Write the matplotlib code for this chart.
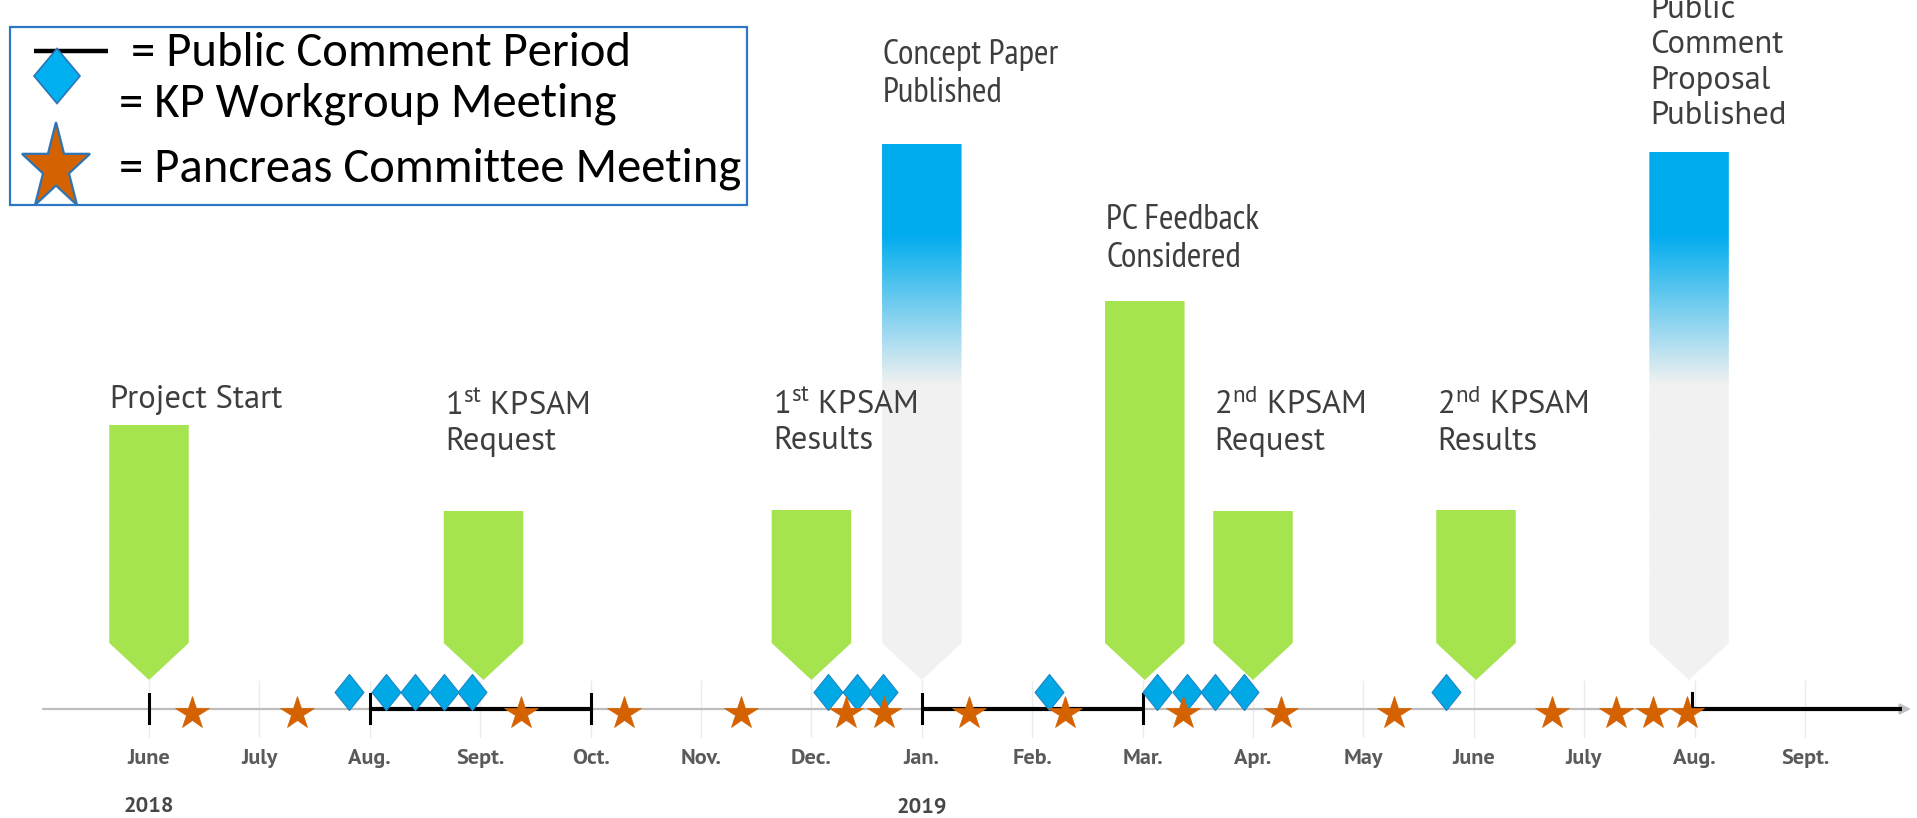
import numpy as np
import matplotlib
matplotlib.use("Agg")
import matplotlib.pyplot as plt
from matplotlib import font_manager
from matplotlib.path import Path
from matplotlib.patches import Polygon, Rectangle
from matplotlib.colors import to_rgb

# ---------------------------------------------------------------
# Timeline data (x = months after 1 June 2018)
# ---------------------------------------------------------------
month_labels = ["June", "July", "Aug.", "Sept.", "Oct.", "Nov.", "Dec.",
                "Jan.", "Feb.", "Mar.", "Apr.", "May", "June", "July",
                "Aug.", "Sept."]
year_labels = ["2018", "2019"]
year_months = [0, 7]

event_labels = [
    "Project Start",
    "1$^{\\mathrm{st}}$ KPSAM\nRequest",
    "1$^{\\mathrm{st}}$ KPSAM\nResults",
    "Concept Paper\nPublished",
    "PC Feedback\nConsidered",
    "2$^{\\mathrm{nd}}$ KPSAM\nRequest",
    "2$^{\\mathrm{nd}}$ KPSAM\nResults",
    "Public\nComment\nProposal\nPublished",
]
event_months = [0.0, 3.03, 6.0, 7.0, 9.02, 10.0, 12.02, 13.95]
event_heights = [284, 198, 199, 565, 408, 198, 199, 557]
event_kinds = ["milestone", "milestone", "milestone", "publication",
               "milestone", "milestone", "milestone", "publication"]

kp_meetings = [1.81, 2.15, 2.41, 2.67, 2.93, 6.15, 6.41, 6.65, 8.15,
               9.13, 9.40, 9.66, 9.92, 11.75]
committee_meetings = [0.39, 1.34, 3.37, 4.30, 5.36, 6.31, 6.66, 7.43,
                      8.30, 9.37, 10.25, 11.28, 12.71, 13.29, 13.62, 13.93]

comment_starts = [2.0, 7.0, 13.98]
comment_ends = [4.0, 9.0, 15.88]
start_tick = [0.0]

legend_entries = ["= Public Comment Period", "= KP Workgroup Meeting",
                  "= Pancreas Committee Meeting"]

# ---------------------------------------------------------------
# Styling
# ---------------------------------------------------------------
_installed = {f.name for f in font_manager.fontManager.ttflist}


def first_font(names):
    for n in names:
        if n in _installed:
            return n
    return "DejaVu Sans"


label_font = first_font(["PT Sans", "Ubuntu", "DejaVu Sans"])
label_font_narrow = first_font(["PT Sans Narrow", "Ubuntu Condensed",
                                "Roboto Condensed", "DejaVu Sans"])
axis_font = first_font(["PT Sans", "DejaVu Sans"])
legend_font = first_font(["Carlito", "Lato", "DejaVu Sans"])

plt.rcParams["mathtext.fontset"] = "custom"
plt.rcParams["mathtext.rm"] = label_font
plt.rcParams["mathtext.it"] = label_font
plt.rcParams["mathtext.default"] = "rm"

GREEN = "#A5E34F"
BLUE = "#00ACEE"
GREY = "#F1F1F1"
ORANGE = "#D46200"
DIAMOND = "#00A8E6"
TEXT = "#3E3E3E"

W, H = 1917, 818
fig = plt.figure(figsize=(W / 100, H / 100), dpi=100)
fig.patch.set_facecolor("white")

px_per_month = 110.4
x_origin = 149.0
axis_py = 709.0
ax = fig.add_axes([0, 0, 1, 1])
ax.axis("off")

bar_w = 0.72
neck = 66     # height where the bar turns into its pointer
tip = 29      # height of the pointer tip above the axis

# ---- month gridlines and axis --------------------------------
for m in range(len(month_labels)):
    ax.plot([m, m], [-28, 28], color="#EBEBEB", lw=1.0, zorder=0.5)

ax.annotate("", xy=(15.96, 0), xytext=(-0.96, 0),
            arrowprops=dict(arrowstyle="-|>", color="#BDBDBD", lw=1.6,
                            mutation_scale=16, shrinkA=0, shrinkB=0),
            zorder=1)

# ---- event bars ----------------------------------------------
blue_rgb = np.array(to_rgb(BLUE))
grey_rgb = np.array(to_rgb(GREY))
for m, top, kind in zip(event_months, event_heights, event_kinds):
    left, right = m - bar_w / 2, m + bar_w / 2
    verts = [(left, top), (right, top), (right, neck), (m, tip), (left, neck)]
    if kind == "milestone":
        ax.add_patch(Polygon(verts, closed=True, facecolor=GREEN,
                             edgecolor="none", zorder=2))
    else:
        poly = Polygon(verts, closed=True, facecolor="none",
                       edgecolor="none", zorder=2)
        ax.add_patch(poly)
        hs = np.linspace(tip, top, 500)
        t = np.clip((hs - 325) / (475 - 325), 0, 1)[:, None]
        cols = grey_rgb * (1 - t) + blue_rgb * t
        im = ax.imshow(cols[:, None, :], extent=[left, right, tip, top],
                       origin="lower", aspect="auto", zorder=2,
                       interpolation="bilinear")
        im.set_clip_path(poly)

# ---- event labels --------------------------------------------
label_y = [309, 285, 286, 635, 470, 286, 286, 646]
condensed_labels = {3, 4}
for i, (m, lab, y) in enumerate(zip(event_months, event_labels, label_y)):
    if i in condensed_labels:
        fam, size = label_font_narrow, 25.5
    else:
        fam, size = label_font, 23.5
    ax.text(m - bar_w / 2 + 0.01, y, lab, ha="left", va="center",
            fontsize=size, family=fam, color=TEXT,
            linespacing=1.22, zorder=5)

# ---- public comment periods ----------------------------------
for s, e in zip(comment_starts, comment_ends):
    ax.plot([s, e], [0, 0], color="black", lw=3.0, zorder=3,
            solid_capstyle="butt")
for s in comment_starts[:-1] + comment_ends[:-1] + start_tick:
    ax.plot([s, s], [-14, 15], color="black", lw=2.2, zorder=3)
ax.plot([comment_starts[-1]] * 2, [0, 16], color="black", lw=2.2, zorder=3)

# ---- meetings --------------------------------------------------
diamond = Path([(0, 1), (0.8, 0), (0, -1), (-0.8, 0), (0, 1)],
               [Path.MOVETO, Path.LINETO, Path.LINETO, Path.LINETO,
                Path.CLOSEPOLY])
ax.plot(kp_meetings, [17] * len(kp_meetings), linestyle="none",
        marker=diamond, markersize=26, markerfacecolor=DIAMOND,
        markeredgecolor="#1B86C6", markeredgewidth=0.8, zorder=4)
ax.plot(committee_meetings, [-4] * len(committee_meetings),
        linestyle="none", marker="*", markersize=25,
        markerfacecolor=ORANGE, markeredgecolor=ORANGE,
        markeredgewidth=0.5, zorder=4.5)

# ---- month and year labels -------------------------------------
for m, lab in enumerate(month_labels):
    ax.text(m, -49, lab, ha="center", va="center", fontsize=16,
            family=axis_font, color="#5A5A5A", fontweight="bold")
for m, lab in zip(year_months, year_labels):
    ax.text(m, -98, lab, ha="center", va="center", fontsize=16,
            family=axis_font, color="#474747", fontweight="bold")

ax.set_xlim(-x_origin / px_per_month, (W - x_origin) / px_per_month)
ax.set_ylim(axis_py - H, axis_py)

# ---------------------------------------------------------------
# Key box (pixel coordinates)
# ---------------------------------------------------------------
ov = fig.add_axes([0, 0, 1, 1])
ov.set_xlim(0, W)
ov.set_ylim(H, 0)
ov.axis("off")
ov.patch.set_alpha(0)

ov.add_patch(Rectangle((10, 27), 737, 178, facecolor="white",
                       edgecolor="#2F78C8", lw=1.6, zorder=1))
ov.plot([34, 108], [51, 51], color="black", lw=3.2, zorder=2,
        solid_capstyle="butt")
ov.add_patch(Polygon([(57, 48.5), (80, 76), (57, 103.5), (34, 76)],
                     closed=True, facecolor="#00B0F0", edgecolor="#2E75B6",
                     lw=1.2, zorder=2))
ang = np.deg2rad(90 + np.arange(10) * 36)
rad = np.where(np.arange(10) % 2 == 0, 1.0, 0.382)
sx, sy = 35.8, 45.9
star_pts = np.column_stack([56 + sx * rad * np.cos(ang),
                            168 - sy * rad * np.sin(ang)])
ov.add_patch(Polygon(star_pts, closed=True, facecolor=ORANGE,
                     edgecolor="#2E75B6", lw=1.6, zorder=2))

legend_x = [131, 119, 119]
legend_y = [53, 104, 169]
for x, y, lab in zip(legend_x, legend_y, legend_entries):
    ov.text(x, y, lab, ha="left", va="center", fontsize=35,
            family=legend_font, color="black", zorder=3)

fig.savefig("out.png", dpi=100, facecolor="white")
